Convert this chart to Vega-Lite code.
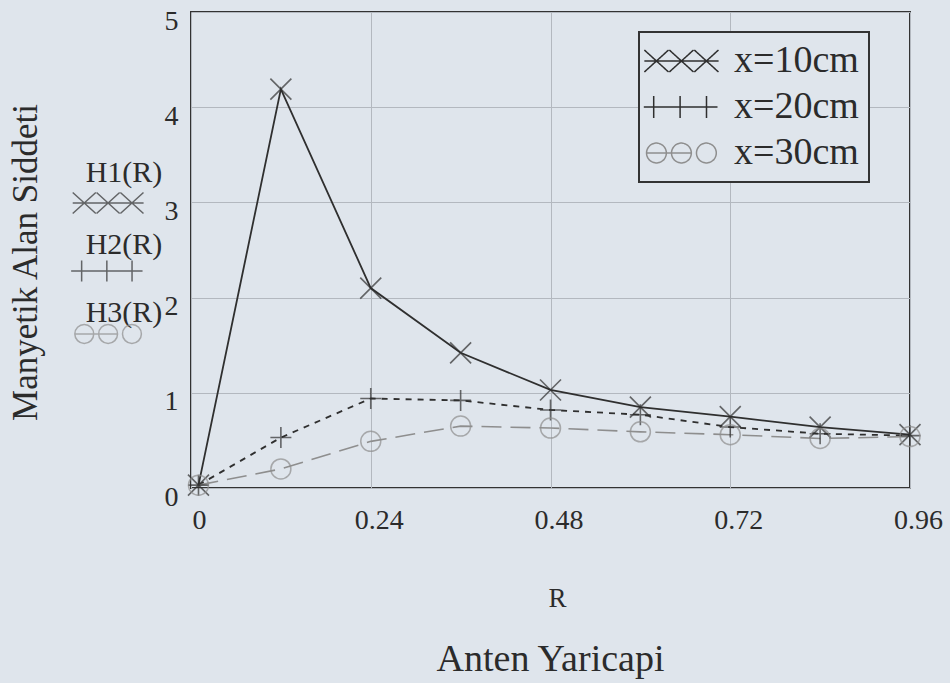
{
  "$schema": "https://vega.github.io/schema/vega-lite/v6.json",
  "width": 719,
  "height": 476,
  "autosize": {"type": "none"},
  "padding": {"left": 191, "top": 12, "right": 40, "bottom": 195},
  "background": "#dfe5ec",
  "config": {
    "font": "Liberation Serif, Times New Roman, serif",
    "axis": {"labelFont": "Liberation Serif, Times New Roman, serif", "titleFont": "Liberation Serif, Times New Roman, serif"},
    "legend": {"labelFont": "Liberation Serif, Times New Roman, serif", "titleFont": "Liberation Serif, Times New Roman, serif"},
    "title": {"font": "Liberation Serif, Times New Roman, serif"},
    "text": {"font": "Liberation Serif, Times New Roman, serif"},
    "view": {"stroke": "#333333", "strokeWidth": 2, "fill": "#dfe5ec"}
  },
  "title": {"text": "Anten Yaricapi", "orient": "bottom", "anchor": "middle", "fontSize": 38, "fontWeight": "normal", "color": "#2b2b2b", "offset": 30},
  "datasets": {
    "main": [
      {"R": 0.01, "H": 0.03, "series": "x=10cm"},
      {"R": 0.12, "H": 4.19, "series": "x=10cm"},
      {"R": 0.24, "H": 2.1, "series": "x=10cm"},
      {"R": 0.36, "H": 1.42, "series": "x=10cm"},
      {"R": 0.48, "H": 1.03, "series": "x=10cm"},
      {"R": 0.6, "H": 0.85, "series": "x=10cm"},
      {"R": 0.72, "H": 0.75, "series": "x=10cm"},
      {"R": 0.84, "H": 0.64, "series": "x=10cm"},
      {"R": 0.96, "H": 0.56, "series": "x=10cm"},
      {"R": 0.01, "H": 0.03, "series": "x=20cm"},
      {"R": 0.12, "H": 0.53, "series": "x=20cm"},
      {"R": 0.24, "H": 0.94, "series": "x=20cm"},
      {"R": 0.36, "H": 0.92, "series": "x=20cm"},
      {"R": 0.48, "H": 0.82, "series": "x=20cm"},
      {"R": 0.6, "H": 0.77, "series": "x=20cm"},
      {"R": 0.72, "H": 0.64, "series": "x=20cm"},
      {"R": 0.84, "H": 0.57, "series": "x=20cm"},
      {"R": 0.96, "H": 0.55, "series": "x=20cm"},
      {"R": 0.01, "H": 0.03, "series": "x=30cm"},
      {"R": 0.12, "H": 0.2, "series": "x=30cm"},
      {"R": 0.24, "H": 0.49, "series": "x=30cm"},
      {"R": 0.36, "H": 0.65, "series": "x=30cm"},
      {"R": 0.48, "H": 0.63, "series": "x=30cm"},
      {"R": 0.6, "H": 0.59, "series": "x=30cm"},
      {"R": 0.72, "H": 0.56, "series": "x=30cm"},
      {"R": 0.84, "H": 0.52, "series": "x=30cm"},
      {"R": 0.96, "H": 0.54, "series": "x=30cm"}
    ]
  },
  "layer": [
    {
      "data": {"name": "main"},
      "transform": [{"filter": "datum.series === 'x=10cm'"}],
      "mark": {"type": "line", "strokeWidth": 1.8},
      "encoding": {
        "x": {
          "field": "R", "type": "quantitative",
          "scale": {"domain": [0, 0.96], "nice": false, "zero": false},
          "axis": {
            "values": [0, 0.24, 0.48, 0.72, 0.96], "format": "~g",
            "grid": true, "gridColor": "#b3b8bf", "gridWidth": 1,
            "domain": false, "ticks": false,
            "labelFont": "Liberation Serif, Times New Roman, serif", "labelFontSize": 28, "labelColor": "#2b2b2b", "labelPadding": 18, "labelOffset": 8,
            "labelFlush": false, "labelOverlap": false,
            "title": "R", "titleFont": "Liberation Serif, Times New Roman, serif", "titleFontSize": 27, "titleFontWeight": "normal", "titleColor": "#2b2b2b",
            "titleX": 366, "titleY": 110, "titleBaseline": "middle", "titleAlign": "center"
          }
        },
        "y": {
          "field": "H", "type": "quantitative",
          "scale": {"domain": [0, 5], "nice": false},
          "axis": {
            "values": [0, 1, 2, 3, 4, 5], "format": "d",
            "grid": true, "gridColor": "#b3b8bf", "gridWidth": 1,
            "domain": false, "ticks": false,
            "labelFont": "Liberation Serif, Times New Roman, serif", "labelFontSize": 28, "labelColor": "#2b2b2b", "labelPadding": 13, "labelOffset": 9,
            "labelFlush": false, "labelOverlap": false,
            "title": "Manyetik Alan Siddeti", "titleFont": "Liberation Serif, Times New Roman, serif", "titleFontSize": 35, "titleFontWeight": "normal", "titleColor": "#2b2b2b",
            "titleX": -166, "titleY": 250, "titleAngle": 270, "titleAlign": "center", "titleBaseline": "middle"
          }
        },
        "color": {
          "field": "series", "type": "nominal",
          "scale": {"domain": ["x=10cm", "x=20cm", "x=30cm"], "range": ["#2f2f2f", "#2f2f2f", "#8e8e8e"]},
          "legend": {
            "title": null, "orient": "none", "legendX": 448, "legendY": 20,
            "padding": 10, "strokeColor": "#333333", "fillColor": "#dfe5ec",
            "labelFontSize": 38, "labelFont": "Liberation Serif, Times New Roman, serif", "labelColor": "#2b2b2b",
            "rowPadding": 8, "labelOffset": 47, "symbolSize": 484, "symbolStrokeWidth": 1.5,
            "encode": {
              "legend": {"update": {"strokeWidth": {"value": 2}}},
              "symbols": {"update": {
                "shape": {"signal": "datum.value === 'x=10cm' ? 'M-2.15,0H4.6M-2.15,-1L0.05,1M-2.15,1L0.05,-1M0.12,-1L2.32,1M0.12,1L2.32,-1M2.39,-1L4.59,1M2.39,1L4.59,-1' : datum.value === 'x=20cm' ? 'M-2.2,0H4.5M-1.3,-1V1M1.1,-1V1M3.5,-1V1' : 'M-1.95,0H2.12M-1.95,0A0.9,0.9,0,1,0,-0.15,0A0.9,0.9,0,1,0,-1.95,0M0.32,0A0.9,0.9,0,1,0,2.12,0A0.9,0.9,0,1,0,0.32,0M2.59,0A0.9,0.9,0,1,0,4.39,0A0.9,0.9,0,1,0,2.59,0'"},
                "size": {"value": 484},
                "fill": {"value": "transparent"},
                "strokeDash": {"value": [1, 0]}
              }}
            }
          }
        }
      }
    },
    {
      "data": {"name": "main"},
      "transform": [{"filter": "datum.series === 'x=20cm'"}],
      "mark": {"type": "line", "strokeWidth": 1.8, "strokeDash": [6, 6]},
      "encoding": {
        "x": {"field": "R", "type": "quantitative"},
        "y": {"field": "H", "type": "quantitative"},
        "color": {"field": "series", "type": "nominal"}
      }
    },
    {
      "data": {"name": "main"},
      "transform": [{"filter": "datum.series === 'x=30cm'"}],
      "mark": {"type": "line", "strokeWidth": 1.6, "strokeDash": [20, 9]},
      "encoding": {
        "x": {"field": "R", "type": "quantitative"},
        "y": {"field": "H", "type": "quantitative"},
        "color": {"field": "series", "type": "nominal"}
      }
    },
    {
      "data": {"name": "main"},
      "transform": [{"filter": "datum.series === 'x=10cm'"}],
      "mark": {"type": "point", "filled": false, "strokeWidth": 1.6, "size": 441, "color": "#2f2f2f", "shape": "M-1,-1L1,1M-1,1L1,-1"},
      "encoding": {
        "x": {"field": "R", "type": "quantitative"},
        "y": {"field": "H", "type": "quantitative"}
      }
    },
    {
      "data": {"name": "main"},
      "transform": [{"filter": "datum.series === 'x=20cm'"}],
      "mark": {"type": "point", "filled": false, "strokeWidth": 1.6, "size": 441, "color": "#2f2f2f", "shape": "M-1,0H1M0,-1V1"},
      "encoding": {
        "x": {"field": "R", "type": "quantitative"},
        "y": {"field": "H", "type": "quantitative"}
      }
    },
    {
      "data": {"name": "main"},
      "transform": [{"filter": "datum.series === 'x=30cm'"}],
      "mark": {"type": "point", "filled": false, "strokeWidth": 1.5, "size": 400, "color": "#8e8e8e", "shape": "circle"},
      "encoding": {
        "x": {"field": "R", "type": "quantitative"},
        "y": {"field": "H", "type": "quantitative"}
      }
    },
    {
      "data": {"values": [{"label": "H1(R)"}]},
      "mark": {"type": "text", "fontSize": 30, "color": "#2b2b2b", "align": "center", "baseline": "middle"},
      "encoding": {"x": {"datum": -0.0895, "type": "quantitative"}, "y": {"datum": 3.309, "type": "quantitative"}, "text": {"field": "label"}}
    },
    {
      "data": {"values": [{"label": "H2(R)"}]},
      "mark": {"type": "text", "fontSize": 30, "color": "#2b2b2b", "align": "center", "baseline": "middle"},
      "encoding": {"x": {"datum": -0.0895, "type": "quantitative"}, "y": {"datum": 2.553, "type": "quantitative"}, "text": {"field": "label"}}
    },
    {
      "data": {"values": [{"label": "H3(R)"}]},
      "mark": {"type": "text", "fontSize": 30, "color": "#2b2b2b", "align": "center", "baseline": "middle"},
      "encoding": {"x": {"datum": -0.0895, "type": "quantitative"}, "y": {"datum": 1.838, "type": "quantitative"}, "text": {"field": "label"}}
    },
    {
      "data": {"values": [{"series": "x=10cm"}]},
      "mark": {"type": "point", "filled": false, "strokeWidth": 1.5, "size": 441, "color": "#2f2f2f", "shape": "M-1.55,0H5.2M-1.55,-1L0.65,1M-1.55,1L0.65,-1M0.72,-1L2.92,1M0.72,1L2.92,-1M2.99,-1L5.19,1M2.99,1L5.19,-1"},
      "encoding": {"x": {"datum": -0.1362, "type": "quantitative"}, "y": {"datum": 2.994, "type": "quantitative"}}
    },
    {
      "data": {"values": [{"series": "x=20cm"}]},
      "mark": {"type": "point", "filled": false, "strokeWidth": 1.5, "size": 441, "color": "#2f2f2f", "shape": "M-1.7,0H5.1M-0.7,-1V1M1.7,-1V1M4.1,-1V1"},
      "encoding": {"x": {"datum": -0.1362, "type": "quantitative"}, "y": {"datum": 2.279, "type": "quantitative"}}
    },
    {
      "data": {"values": [{"series": "x=30cm"}]},
      "mark": {"type": "point", "filled": false, "strokeWidth": 1.5, "size": 441, "color": "#8e8e8e", "shape": "M-1.35,0H2.72M-1.35,0A0.9,0.9,0,1,0,0.45,0A0.9,0.9,0,1,0,-1.35,0M0.92,0A0.9,0.9,0,1,0,2.72,0A0.9,0.9,0,1,0,0.92,0M3.19,0A0.9,0.9,0,1,0,4.99,0A0.9,0.9,0,1,0,3.19,0"},
      "encoding": {"x": {"datum": -0.1362, "type": "quantitative"}, "y": {"datum": 1.618, "type": "quantitative"}}
    }
  ]
}
